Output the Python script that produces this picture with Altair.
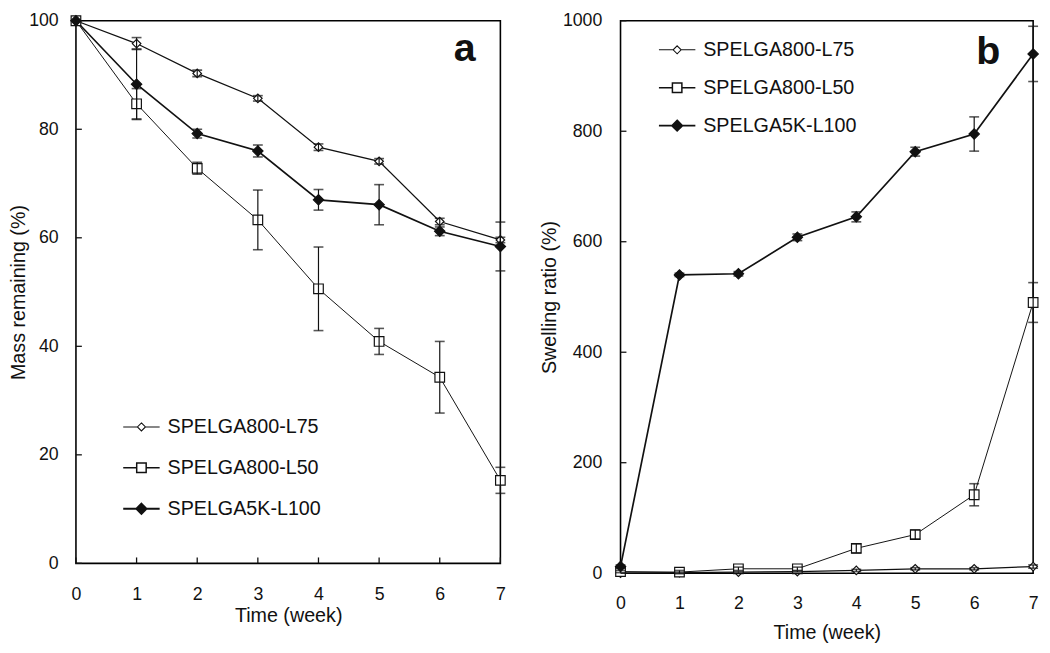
import altair as alt
import pandas as pd

FONT = "Liberation Sans"

weeks = [0, 1, 2, 3, 4, 5, 6, 7]
series_names = ["SPELGA800-L75", "SPELGA800-L50", "SPELGA5K-L100"]

# Panel a: mass remaining (%)
mass_l75 = [100, 95.8, 90.3, 85.7, 76.7, 74.1, 63.0, 59.6]
mass_l75_err = [0, 1.1, 0.6, 0.5, 0.6, 0.5, 0.6, 0.5]
mass_l50 = [100, 84.7, 72.8, 63.3, 50.6, 40.9, 34.3, 15.3]
mass_l50_err = [0, 2.8, 1.1, 5.5, 7.7, 2.4, 6.6, 2.4]
mass_l5k = [100, 88.3, 79.2, 76.0, 67.0, 66.1, 61.2, 58.4]
mass_l5k_err = [0, 6.5, 0.8, 1.1, 1.9, 3.7, 0.8, 4.5]

# Panel b: swelling ratio (%)
swell_l75 = [0, 1, 2, 3, 5, 8, 8, 12]
swell_l75_err = [0, 1, 1, 1, 2, 2, 2, 3]
swell_l50 = [3, 2, 8, 8, 45, 70, 142, 490]
swell_l50_err = [2, 3, 3, 3, 8, 8, 20, 36]
swell_l5k = [12, 540, 542, 608, 645, 763, 795, 940]
swell_l5k_err = [3, 3, 4, 6, 9, 8, 31, 50]

mass_ticks = [0, 20, 40, 60, 80, 100]
swell_ticks = [0, 200, 400, 600, 800, 1000]

INK = "#111111"

marker_style = {
    "SPELGA800-L75": dict(shape="diamond", fill="white", size=75, lw=1.3),
    "SPELGA800-L50": dict(shape="square", fill="white", size=95, lw=1.0),
    "SPELGA5K-L100": dict(shape="diamond", fill=INK, size=110, lw=1.7),
}
legend_paths = [
    "M-1,0L-0.22,0M0.22,0L1,0M0,-0.22L0.22,0L0,0.22L-0.22,0Z",
    "M-1,0L-0.26,0M0.26,0L1,0M-0.26,-0.26L0.26,-0.26L0.26,0.26L-0.26,0.26Z",
    "M-1,0L1,0M0,-0.28L0.28,0L0,0.28L-0.28,0Z",
]
legend_fills = ["white", "white", INK]
legend_strokes = [INK, INK, INK]
legend_widths = [1.1, 1.9, 1.9]


def make_df(vals, errs):
    rows = []
    for name, v, e in zip(series_names, vals, errs):
        for w, y, err in zip(weeks, v, e):
            rows.append(dict(week=w, value=y, lo=y - err, hi=y + err, err=err, series=name))
    return pd.DataFrame(rows)


def panel(df, ymax, yticks, ytitle, w, h, label, label_pos, legend_xy, row_pad,
          x_ticks_inward, x_lp, x_tp, y_lp, y_tp):
    xscale = alt.Scale(domain=[0, 7], nice=False, zero=False)
    yscale = alt.Scale(domain=[0, ymax], nice=False)
    xaxis = alt.Axis(values=weeks, title="Time (week)", ticks=False, domain=False, grid=False,
                     labelFlush=False, labelPadding=x_lp, titlePadding=x_tp, format="d")
    yaxis = alt.Axis(values=yticks, title=ytitle, ticks=False, domain=False, grid=False,
                     labelPadding=y_lp, titlePadding=y_tp, format="d")

    def X(f):
        return alt.X(f, scale=xscale, axis=xaxis)

    def Y(f):
        return alt.Y(f, scale=yscale, axis=yaxis)

    layers = []
    for name in series_names:
        st = marker_style[name]
        sub = alt.Chart(df).transform_filter(alt.datum.series == name)
        layers.append(sub.mark_line(color=INK, strokeWidth=st["lw"]).encode(
            x=X("week:Q"), y=Y("value:Q")))
    for name in series_names:
        st = marker_style[name]
        sub = alt.Chart(df).transform_filter(alt.datum.series == name)
        layers.append(sub.mark_point(shape=st["shape"], filled=True, fill=st["fill"], stroke=INK,
                                     strokeWidth=1.2, size=st["size"], opacity=1).encode(
            x=X("week:Q"), y=Y("value:Q")))
    eb = alt.Chart(df).transform_filter(alt.datum.err > 0)
    layers.append(eb.mark_rule(color=INK, strokeWidth=1.2).encode(
        x=X("week:Q"), y=Y("lo:Q"), y2="hi:Q"))
    layers.append(eb.mark_tick(orient="horizontal", color=INK, size=10, thickness=1.6).encode(
        x=X("week:Q"), y=Y("lo:Q")))
    layers.append(eb.mark_tick(orient="horizontal", color=INK, size=10, thickness=1.6).encode(
        x=X("week:Q"), y=Y("hi:Q")))
    ytick_df = pd.DataFrame({"t": yticks})
    layers.append(alt.Chart(ytick_df).mark_rule(color=INK, strokeWidth=1.3).encode(
        y=Y("t:Q"), x=alt.value(0), x2=alt.value(6)))
    if x_ticks_inward:
        xtick_df = pd.DataFrame({"t": weeks})
        layers.append(alt.Chart(xtick_df).mark_rule(color=INK, strokeWidth=1.3).encode(
            x=X("t:Q"), y=alt.value(h), y2=alt.value(h - 6)))
    layers.append(alt.Chart(pd.DataFrame({"k": [0]})).mark_text(
        text=label, font=FONT, fontSize=40, fontWeight="bold", color=INK,
        align="center", baseline="alphabetic").encode(
        x=alt.X(datum=label_pos[0], scale=xscale, axis=xaxis),
        y=alt.Y(datum=label_pos[1], scale=yscale, axis=yaxis)))
    leg = alt.Legend(
        title=None, orient="none", legendX=legend_xy[0], legendY=legend_xy[1],
        symbolSize=1369, symbolStrokeColor=INK,
        labelFont=FONT, labelFontSize=20, labelColor=INK, labelOffset=7,
        rowPadding=row_pad, padding=0, symbolOpacity=1,
    )
    layers.append(alt.Chart(df).transform_filter("false").mark_point(filled=False).encode(
        x=X("week:Q"), y=Y("value:Q"),
        shape=alt.Shape("series:N", scale=alt.Scale(domain=series_names, range=legend_paths), legend=leg),
        fill=alt.Fill("series:N", scale=alt.Scale(domain=series_names, range=legend_fills), legend=leg),
        stroke=alt.Stroke("series:N", scale=alt.Scale(domain=series_names, range=legend_strokes), legend=leg),
        strokeWidth=alt.StrokeWidth("series:N", scale=alt.Scale(domain=series_names, range=legend_widths), legend=leg),
    ))
    return alt.layer(*layers).properties(width=w, height=h)


df_mass = make_df([mass_l75, mass_l50, mass_l5k], [mass_l75_err, mass_l50_err, mass_l5k_err])
df_swell = make_df([swell_l75, swell_l50, swell_l5k], [swell_l75_err, swell_l50_err, swell_l5k_err])

pa = panel(df_mass, 100, mass_ticks, "Mass remaining (%)", 431, 551, "a", (6.41, 92.5),
           (47, 393), 11.5, True, 23, 2, 18, 0)
pb = panel(df_swell, 1000, swell_ticks, "Swelling ratio (%)", 419, 561, "b", (6.24, 921),
           (38, 10), 8.5, False, 22, 10, 19, 3)

chart = alt.hconcat(pa, pb, spacing=30).resolve_scale(
    shape="independent", fill="independent", stroke="independent", strokeWidth="independent"
).resolve_legend(
    shape="independent", fill="independent", stroke="independent", strokeWidth="independent"
).properties(
    padding={"left": 0, "top": -2, "right": 0, "bottom": 0}
).configure_view(stroke="black", strokeWidth=1.6).configure_axis(
    labelFont=FONT, labelFontSize=18, labelColor=INK,
    titleFont=FONT, titleFontSize=20, titleFontWeight="normal", titleColor=INK,
)

chart.save("out.html", embed_options={"renderer": "svg", "actions": False})
